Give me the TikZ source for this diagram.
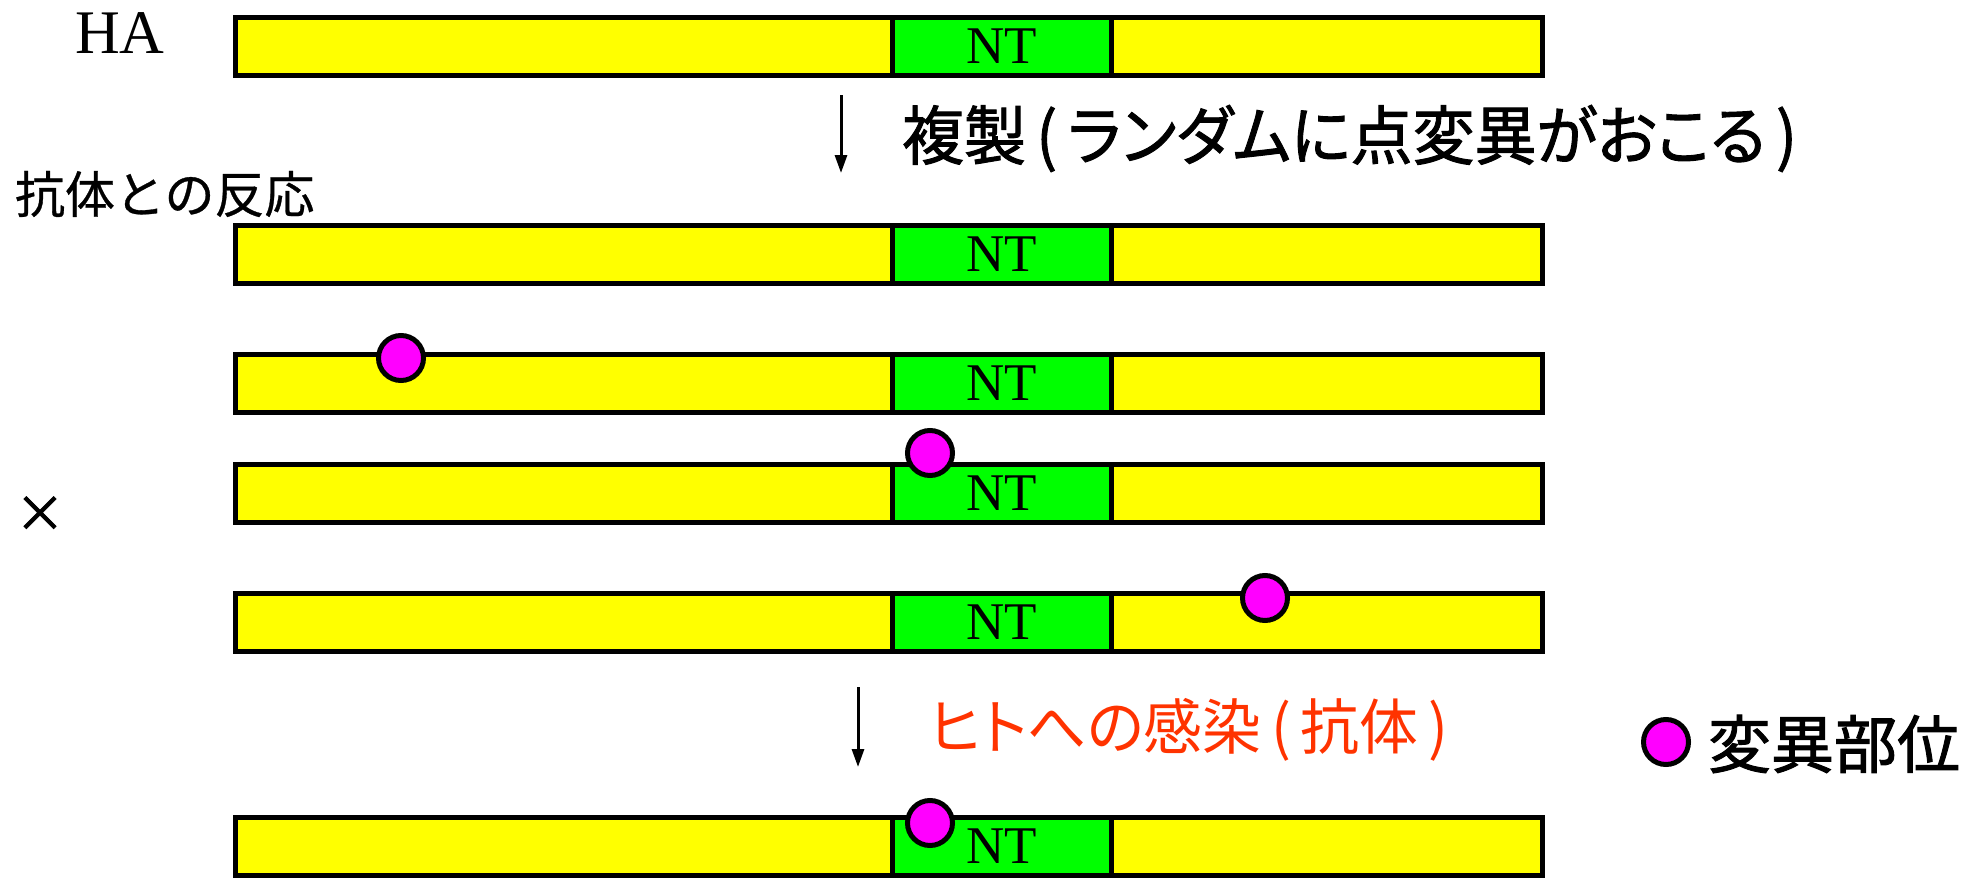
\documentclass[tikz,border=0pt]{standalone}
\usepackage{fontspec}
\setmainfont{Liberation Serif}
\newfontfamily\jp{Noto Sans CJK JP}
\newfontfamily\jpp[RawFeature=+palt]{Noto Sans CJK JP}
\newfontfamily\jpb[FakeBold=1.5]{Noto Sans CJK JP}
\newfontfamily\jpbp[FakeBold=1.5,RawFeature=+palt]{Noto Sans CJK JP}
\newfontfamily\jpm[FakeBold=0.6]{Noto Sans CJK JP}
\usetikzlibrary{arrows.meta}
\definecolor{ybar}{RGB}{255,255,0}
\definecolor{gbar}{RGB}{0,255,0}
\definecolor{mut}{RGB}{255,0,255}
\definecolor{redtxt}{RGB}{255,51,0}
\tikzset{
 bar/.style={draw=black, line width=5pt, fill=ybar, minimum width=1307pt, minimum height=58pt, inner sep=0pt, outer sep=0pt},
 ntbox/.style={draw=black, line width=5pt, fill=gbar, minimum width=219pt, minimum height=58pt, inner sep=0pt, font=\fontsize{53}{53}\selectfont},
 mutc/.style={circle, draw=black, line width=5pt, fill=mut, minimum size=45pt, inner sep=0pt},
 flow/.style={line width=3pt, -{Triangle[length=18pt,width=12pt]}},
 txt/.style={inner sep=0pt, outer sep=0pt},
}
\begin{document}
\begin{tikzpicture}[x=1pt,y=-1pt]
\useasboundingbox (0,0) rectangle (1982,878);
% bars
\node[bar] (bar1) at (888.5,46.5) {};
\node[ntbox] (nt1) at (1002,46.5) {\raisebox{-1pt}{NT}};
\node[bar] (bar2) at (888.5,254) {};
\node[ntbox] (nt2) at (1002,254) {\raisebox{-1pt}{NT}};
\node[bar] (bar3) at (888.5,383) {};
\node[ntbox] (nt3) at (1002,383) {\raisebox{-1pt}{NT}};
\node[bar] (bar4) at (888.5,493.6) {};
\node[ntbox] (nt4) at (1002,493.6) {\raisebox{-1pt}{NT}};
\node[bar] (bar5) at (888.5,622) {};
\node[ntbox] (nt5) at (1002,622) {\raisebox{-1pt}{NT}};
\node[bar] (bar6) at (888.5,846.5) {};
\node[ntbox] (nt6) at (1002,846.5) {\raisebox{-1pt}{NT}};
% mutation sites
\node[mutc] (m3) at (401,358) {};
\node[mutc] (m4) at (930,453) {};
\node[mutc] (m5) at (1265,598) {};
\node[mutc] (m6) at (930,823) {};
\node[mutc] (mleg) at (1666,742) {};
% texts
\node[txt] (ha) at (120,33) {\fontsize{62}{62}\selectfont HA};
\node[txt, anchor=north west] (rep) at (902,105) {\resizebox*{895pt}{67pt}{\jpbp\fontsize{64}{64}\selectfont 複製\,(\,ランダムに点変異がおこる\,)}};
\node[txt, anchor=west] (ab) at (15,194) {\jpm\fontsize{50}{50}\selectfont 抗体との反応};
\node[txt] (cross) at (40,514) {\jpb\fontsize{50}{50}\selectfont ×};
\node[txt, anchor=north west, text=redtxt] (inf) at (929,698) {\resizebox*{519pt}{63pt}{\jpp\fontsize{65}{65}\selectfont ヒトへの感染\,(\,抗体\,)}};
\node[txt, anchor=west] (leg) at (1708,744) {\jpb\fontsize{63}{63}\selectfont 変異部位};
% arrows
\coordinate (a1s) at (841,95);
\coordinate (a1e) at (841,173);
\draw[flow] (a1s) -- (a1e);
\coordinate (a2s) at (858,687);
\coordinate (a2e) at (858,767);
\draw[flow] (a2s) -- (a2e);
\end{tikzpicture}
\end{document}
